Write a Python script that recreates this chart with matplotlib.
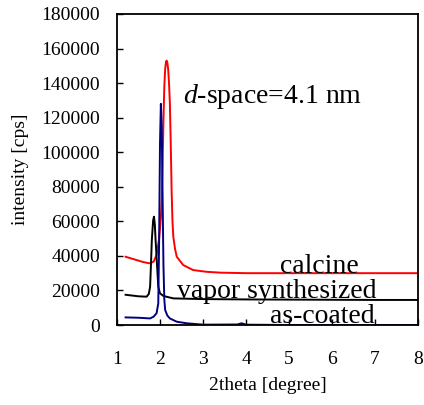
import matplotlib
matplotlib.use("Agg")
import matplotlib.pyplot as plt

plt.rcParams['font.family'] = ['Liberation Serif', 'DejaVu Serif']
plt.rcParams['mathtext.fontset'] = 'custom'
plt.rcParams['mathtext.rm'] = 'Liberation Serif'
plt.rcParams['mathtext.it'] = 'Liberation Serif:italic'

# calcine (red)
calc_x = [1.2, 1.4, 1.6, 1.75, 1.85, 1.92, 1.98, 2.02, 2.04, 2.06, 2.08, 2.10, 2.12, 2.14, 2.155, 2.17,
          2.19, 2.21, 2.23, 2.25, 2.27, 2.29, 2.31, 2.35, 2.39, 2.54, 2.77, 3.08, 3.4, 4.0, 5.0, 6.0, 7.0, 8.0]
calc_y = [39500, 38000, 36500, 35700, 36600, 40500, 50000, 62000, 72000, 92000, 118000, 138000, 148000,
          152500, 153000, 152000, 148000, 140000, 128000, 105000, 78000, 60000, 51000, 44000, 39500, 34700,
          31800, 30800, 30300, 30000, 30000, 30000, 30000, 30000]

# vapor synthesized (black)
vap_x = [1.2, 1.5, 1.69, 1.74, 1.77, 1.79, 1.81, 1.84, 1.86, 1.88, 1.90, 1.92, 1.96, 2.0, 2.08, 2.31,
         3.0, 4.0, 5.0, 6.0, 7.0, 8.0]
vap_y = [17500, 16600, 16400, 18000, 22200, 35000, 49200, 60500, 62700, 58000, 48000, 39500, 22200,
         18300, 16800, 15400, 15000, 14800, 14700, 14600, 14500, 14500]

# as-coated (navy)
coat_x = [1.2, 1.5, 1.77, 1.85, 1.92, 1.96, 1.98, 2.0, 2.02, 2.04, 2.06, 2.08, 2.10, 2.12, 2.17, 2.23,
          2.39, 2.62, 3.0, 3.8, 3.9, 4.0, 5.0, 6.0, 7.0, 8.0]
coat_y = [4400, 4200, 3800, 4800, 6800, 12500, 50000, 105000, 128000, 115000, 75000, 35000, 15000,
          8700, 5500, 3800, 1900, 1000, 200, 300, 1000, 200, 0, 0, 0, 0]

x_ticks = [1, 2, 3, 4, 5, 6, 7, 8]
y_ticks = [0, 20000, 40000, 60000, 80000, 100000, 120000, 140000, 160000, 180000]

fig = plt.figure(figsize=(4.24, 4.05), dpi=100)
ax = fig.add_axes([117/424, 1-325/405, (418-117)/424, (325-14)/405])

ax.plot(calc_x, calc_y, color='#ff0000', lw=1.4)
ax.plot(vap_x, vap_y, color='black', lw=1.4)
ax.plot(coat_x, coat_y, color='#000080', lw=1.4)

ax.set_xlim(1, 8)
ax.set_ylim(0, 180000)
ax.set_xticks(x_ticks)
ax.set_yticks(y_ticks)
ax.set_xticklabels([str(v) for v in x_ticks], fontsize=14)
ax.set_yticklabels([str(v) for v in y_ticks], fontsize=14)
ax.tick_params(direction='in', length=4, width=1, top=False, right=False)
ax.tick_params(axis='y', pad=12)
ax.tick_params(axis='x', pad=19)
for s in ax.spines.values():
    s.set_linewidth(1.3)

ax.set_xlabel('2theta [degree]', fontsize=14, labelpad=6)
ax.set_ylabel('intensity [cps]', fontsize=14, labelpad=9)

ax.text(2.54, 128300, r'$\mathit{d}$-space=4.1 nm', fontsize=20, va='baseline', ha='left')
ax.text(4.79, 30300, 'calcine', fontsize=20, va='baseline', ha='left')
ax.text(2.39, 15400, 'vapor synthesized', fontsize=20, va='baseline', ha='left')
ax.text(4.56, 900, 'as-coated', fontsize=20, va='baseline', ha='left')

fig.savefig('out.png', dpi=100)
